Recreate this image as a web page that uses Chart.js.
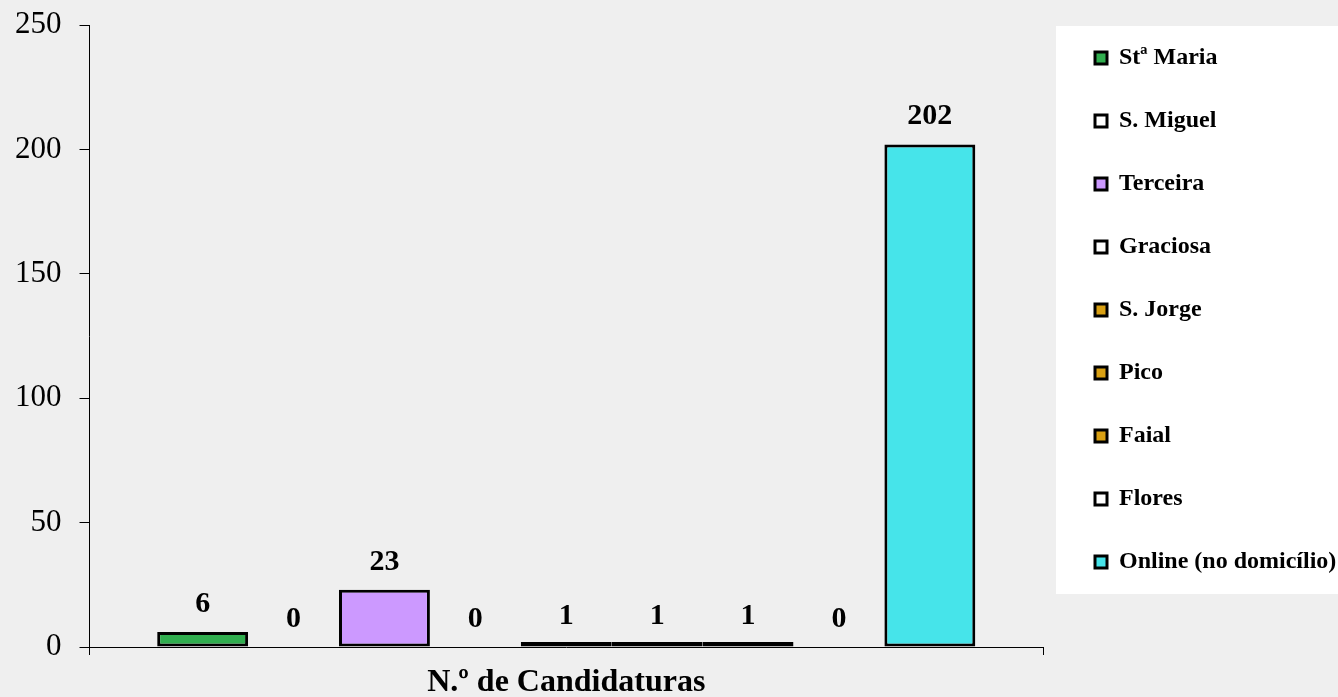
<!DOCTYPE html>
<html>
<head>
<meta charset="utf-8">
<script src="https://cdn.jsdelivr.net/npm/chart.js@4.4.1/dist/chart.umd.min.js"></script>
<style>
  html, body { margin: 0; padding: 0; background: #efefef; }
  canvas { display: block; }
</style>
</head>
<body>
<canvas id="chart" width="1338" height="697"></canvas>
<script>
const categories = ["N.º de Candidaturas"]
const islands = ["Stª Maria", "S. Miguel", "Terceira", "Graciosa", "S. Jorge", "Pico", "Faial", "Flores", "Online (no domicílio)"]
const counts = [6, 0, 23, 0, 1, 1, 1, 0, 202]
const fills = ["#31ae4f", "#ffffff", "#cc99ff", "#ffffff", "#d9a013", "#d9a013", "#d9a013", "#ffffff", "#46e4ea"]
const yTicks = [0, 50, 100, 150, 200, 250]

const FONT = "'Liberation Serif', 'Times New Roman', serif"
const LEGEND_GAP = 13

// nudge the legend away from the plot, then paint its white panel
const legendPanel = {
  id: "legendPanel",
  afterLayout(chart) {
    const lg = chart.legend
    const w = lg.width
    lg.left = chart.chartArea.right + LEGEND_GAP
    lg.right = lg.left + w
  },
  beforeDraw(chart) {
    const lg = chart.legend
    const pad = lg.options.labels.padding
    const size = lg.options.labels.font.size
    const n = chart.data.datasets.length
    const top = lg.top + pad - 20
    const ctx = chart.ctx
    ctx.save()
    ctx.fillStyle = "#ffffff"
    ctx.fillRect(lg.left, top, chart.width - lg.left, n * (size + pad) - pad + 40)
    ctx.restore()
  }
}

// value above each bar
const valueLabels = {
  id: "valueLabels",
  afterDatasetsDraw(chart) {
    const ctx = chart.ctx
    ctx.save()
    ctx.font = "bold 30px " + FONT
    ctx.fillStyle = "#000"
    ctx.textAlign = "center"
    ctx.textBaseline = "middle"
    chart.data.datasets.forEach((ds, i) => {
      chart.getDatasetMeta(i).data.forEach((bar, j) => {
        const top = chart.scales.y.getPixelForValue(ds.data[j])
        ctx.fillText(String(ds.data[j]), bar.x, top - 28)
      })
    })
    ctx.restore()
  }
}

new Chart(document.getElementById("chart").getContext("2d"), {
  type: "bar",
  data: {
    labels: categories,
    datasets: islands.map((name, i) => ({
      label: name,
      data: [counts[i]],
      backgroundColor: fills[i],
      borderColor: "#000",
      borderWidth: 3,
      borderSkipped: false,
      // tiny non-zero bars still show as a thick outline, like the original
      minBarLength: counts[i] > 0 ? 5 : 0,
      categoryPercentage: 0.858,
      barPercentage: 1
    }))
  },
  options: {
    responsive: false,
    animation: false,
    devicePixelRatio: 1,
    layout: { padding: { left: -3, top: 7, right: 0, bottom: -14 } },
    scales: {
      x: {
        grid: { drawOnChartArea: false, color: "#000", tickLength: 8 },
        border: { color: "#000", width: 1 },
        ticks: { color: "#000", padding: 12, font: { family: FONT, size: 32, weight: "bold", lineHeight: 1 } },
        afterFit: (scale) => { scale.paddingRight = 295 }
      },
      y: {
        min: 0,
        max: 250,
        afterBuildTicks: (scale) => { scale.ticks = yTicks.map(v => ({ value: v })) },
        grid: { drawOnChartArea: false, color: "#000", tickLength: 10 },
        border: { color: "#000", width: 1 },
        ticks: { color: "#000", padding: 18, font: { family: FONT, size: 31 } },
        afterFit: (scale) => { scale.paddingTop = 25 }
      }
    },
    plugins: {
      legend: {
        position: "right",
        align: "start",
        labels: {
          color: "#000",
          boxWidth: 12,
          boxHeight: 12,
          padding: 39,
          font: { family: FONT, size: 24, weight: "bold" }
        }
      },
      tooltip: { enabled: false }
    }
  },
  plugins: [legendPanel, valueLabels]
})
</script>
</body>
</html>
